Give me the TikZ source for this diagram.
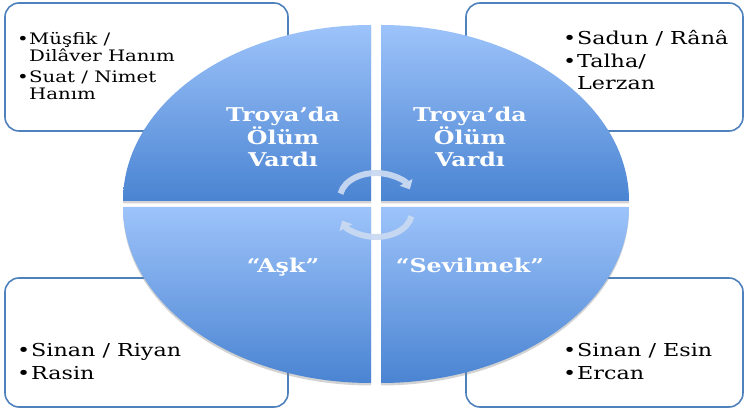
\documentclass[tikz,border=0pt]{standalone}
\usepackage{fontspec}
\setmainfont{DejaVu Serif}
\newfontfamily\widefont[FakeStretch=1.25]{DejaVu Serif}
\usetikzlibrary{shadows,arrows.meta}
\definecolor{boxblue}{HTML}{4F81BD}
\definecolor{qtop}{HTML}{9DC3FA}
\definecolor{qbot}{HTML}{4A84D2}
\definecolor{arrowc}{HTML}{C9D9F1}
\tikzset{
  infobox/.style={draw=boxblue, line width=1.6pt, fill=white, rounded corners=14pt},
  quad/.style={top color=qtop, bottom color=qbot, drop shadow={opacity=0.35, shadow xshift=0pt, shadow yshift=-2.5pt}},
  boxtxt/.style={anchor=base west, inner sep=0pt, font=\widefont\fontsize{17.8}{20}\selectfont, text=black},
  smalltxt/.style={boxtxt, font=\widefont\fontsize{15.8}{18}\selectfont},
  qtxt/.style={align=center, inner sep=0pt, text=white, font=\widefont\bfseries\fontsize{19}{21.5}\selectfont},
  cyc/.style={draw=arrowc, line width=6pt, -{Triangle[width=14pt,length=8pt]}, opacity=0.95}
}
\begin{document}
\begin{tikzpicture}[x=1pt,y=-1pt]
\useasboundingbox (0,0) rectangle (745,411);
% boxes
\draw[infobox] (5,3) rectangle (288,131);
\draw[infobox] (466,3) rectangle (743,131);
\draw[infobox] (5,278) rectangle (288,407);
\draw[infobox] (466,278) rectangle (743,407);
% quadrants
\shade[quad] (371,201) -- (123,201) arc[start angle=180, end angle=270, x radius=248, y radius=176] -- cycle;
\shade[quad] (381,201) -- (381,25) arc[start angle=270, end angle=360, x radius=248, y radius=176] -- cycle;
\shade[quad] (371,207) -- (371,383) arc[start angle=90, end angle=180, x radius=248, y radius=176] -- cycle;
\shade[quad] (381,207) -- (629,207) arc[start angle=0, end angle=90, x radius=248, y radius=176] -- cycle;
% quadrant texts
\node[qtxt] (q1) at (283,137) {Troya’da\\Ölüm\\Vardı};
\node[qtxt] (q2) at (470,137) {Troya’da\\Ölüm\\Vardı};
\node[qtxt, anchor=base] (q3) at (283,273) {“Aşk”};
\node[qtxt, anchor=base] (q4) at (470,273) {“Sevilmek”};
% cycle arrows
\coordinate (c1) at ([shift={(190:36 and 25)}]376,198);
\coordinate (c2) at ([shift={(10:36 and 25)}]376,212);
\draw[cyc] (c1) arc[start angle=190, end angle=340, x radius=36, y radius=25];
\draw[cyc] (c2) arc[start angle=10, end angle=160, x radius=36, y radius=25];
% box texts
\node[smalltxt] (b1) at (17,45) {•};
\node[smalltxt] (t1a) at (29,45) {Müşfik /};
\node[smalltxt] (t1b) at (29,62) {Dilâver Hanım};
\node[smalltxt] (b2) at (17,83) {•};
\node[smalltxt] (t1c) at (29,83) {Suat / Nimet};
\node[smalltxt] (t1d) at (29,100) {Hanım};
\node[boxtxt] (b3) at (563,45) {•};
\node[boxtxt] (t2a) at (577,45) {Sadun / Rânâ};
\node[boxtxt] (b4) at (563,68) {•};
\node[boxtxt] (t2b) at (577,68) {Talha/};
\node[boxtxt] (t2c) at (577,90) {Lerzan};
\node[boxtxt] (b5) at (17,357) {•};
\node[boxtxt] (t3a) at (31,357) {Sinan / Riyan};
\node[boxtxt] (b6) at (17,380) {•};
\node[boxtxt] (t3b) at (31,380) {Rasin};
\node[boxtxt] (b7) at (563,357) {•};
\node[boxtxt] (t4a) at (577,357) {Sinan / Esin};
\node[boxtxt] (b8) at (563,380) {•};
\node[boxtxt] (t4b) at (577,380) {Ercan};
\end{tikzpicture}
\end{document}
